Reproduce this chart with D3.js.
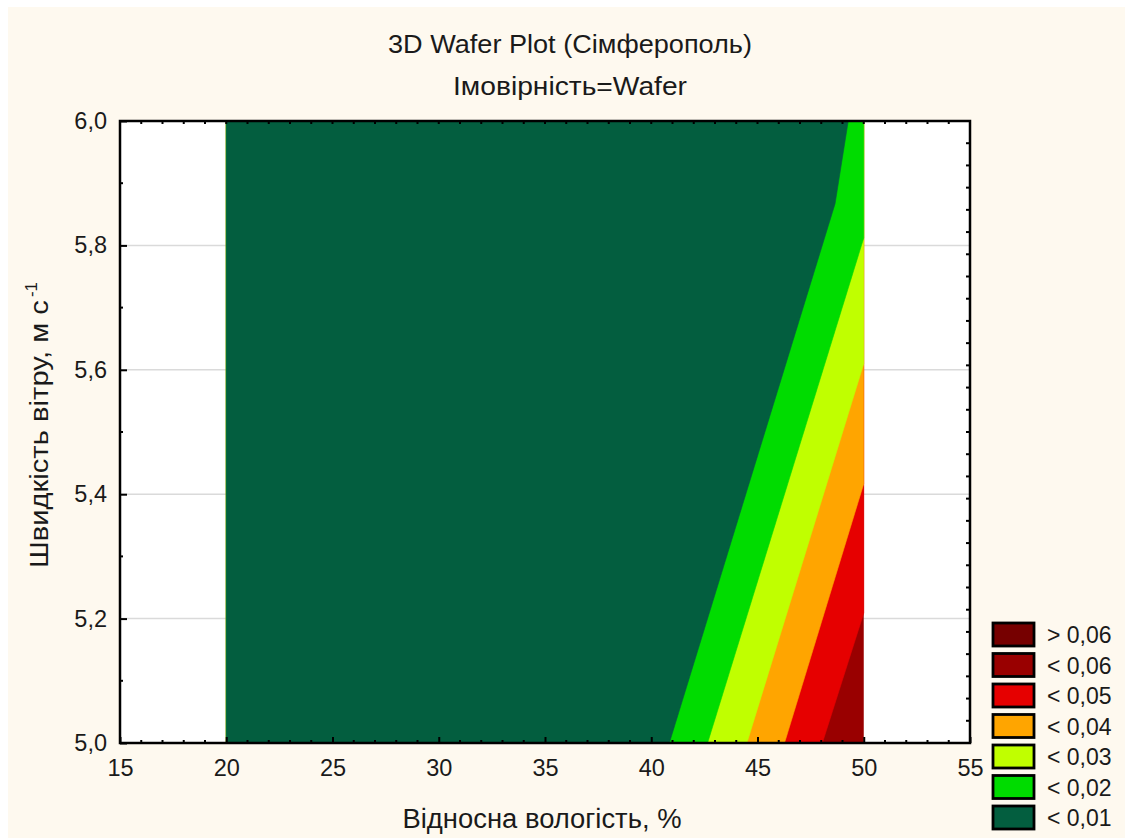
<!DOCTYPE html>
<html>
<head>
<meta charset="utf-8">
<script src="https://cdn.jsdelivr.net/npm/d3@7"></script>
<style>
  html, body { margin: 0; padding: 0; background: #ffffff; }
  svg { display: block; }
  text { font-family: "Liberation Sans", Arial, sans-serif; fill: #1a1a1a; }
</style>
</head>
<body>
<svg id="chart" width="1125" height="838"></svg>
<script>
// Probability surface bands: each iso-line is the boundary where the
// probability equals the level, given as [humidity %, wind speed m/s] points.
const levels = [0.01, 0.02, 0.03, 0.04, 0.05, 0.06];
const iso001 = [[40.85, 5.0], [48.65, 5.867], [49.27, 6.0]];
const iso002 = [[42.65, 5.0], [50.0, 5.812]];
const iso003 = [[44.50, 5.0], [50.0, 5.610]];
const iso004 = [[46.27, 5.0], [50.0, 5.417]];
const iso005 = [[48.05, 5.0], [50.0, 5.209]];
const isoLines = [iso001, iso002, iso003, iso004, iso005];

// Extent of the sampled data (humidity 20–50 %, wind 5–6 m/s)
const humidityRange = [20, 50];
const windRange = [5.0, 6.0];

// Legend entries, top to bottom, and band colours
const legendLabels = ["> 0,06", "< 0,06", "< 0,05", "< 0,04", "< 0,03", "< 0,02", "< 0,01"];
const bandColors = ["#760000", "#990000", "#e60000", "#ffa500", "#c0ff00", "#00dc00", "#035e3f"];

// Axis ticks
const xMajorTicks = [15, 20, 25, 30, 35, 40, 45, 50, 55];
const yMajorTicks = [5.0, 5.2, 5.4, 5.6, 5.8, 6.0];

const svg = d3.select("#chart");
const W = 1125, H = 838;
const plot = { left: 120, right: 970, top: 121, bottom: 743 };

// Page background
svg.append("rect").attr("x", 0).attr("y", 0).attr("width", W).attr("height", H).attr("fill", "#ffffff");
svg.append("rect").attr("x", 8).attr("y", 7).attr("width", W - 8).attr("height", H - 7).attr("fill", "#fef9ef");

const x = d3.scaleLinear().domain([15, 55]).range([plot.left, plot.right]);
const y = d3.scaleLinear().domain([5.0, 6.0]).range([plot.bottom, plot.top]);

// Plot area
svg.append("rect")
  .attr("x", plot.left).attr("y", plot.top)
  .attr("width", plot.right - plot.left).attr("height", plot.bottom - plot.top)
  .attr("fill", "#ffffff");

// Horizontal grid lines
svg.append("g").selectAll("line")
  .data(yMajorTicks.slice(1, -1))
  .join("line")
  .attr("x1", plot.left).attr("x2", plot.right)
  .attr("y1", d => y(d)).attr("y2", d => y(d))
  .attr("stroke", "#dadada").attr("stroke-width", 1.5);

// Filled bands: full data extent in the "< 0,06" colour, then the region
// below each level laid over it from the highest level to the lowest.
const line = d3.line().x(d => x(d[0])).y(d => y(d[1]));
const bands = svg.append("g");
bands.append("path")
  .attr("d", line([[humidityRange[0], windRange[0]], [humidityRange[1], windRange[0]],
                   [humidityRange[1], windRange[1]], [humidityRange[0], windRange[1]]]) + "Z")
  .attr("fill", bandColors[1]);

function belowLevel(iso) {
  const pts = [[humidityRange[0], windRange[0]], ...iso];
  const last = iso[iso.length - 1];
  if (last[1] < windRange[1]) pts.push([humidityRange[1], windRange[1]]);
  pts.push([humidityRange[0], windRange[1]]);
  return pts;
}
for (let i = isoLines.length - 1; i >= 0; i--) {
  bands.append("path")
    .attr("d", line(belowLevel(isoLines[i])) + "Z")
    .attr("fill", bandColors[bandColors.length - 1 - i])
    .attr("stroke", bandColors[bandColors.length - 1 - i])
    .attr("stroke-width", 0.6);
}

// Axes: ticks point into the plot
const tickFont = "23.5px";
const gx = svg.append("g").attr("transform", `translate(0,${plot.bottom})`)
  .call(d3.axisBottom(x).tickValues(xMajorTicks).tickSize(-6).tickPadding(16).tickFormat(d3.format("d")));
const gy = svg.append("g").attr("transform", `translate(${plot.left},0)`)
  .call(d3.axisLeft(y).tickValues(yMajorTicks).tickSize(-7).tickPadding(13)
    .tickFormat(d => d3.format(".1f")(d).replace(".", ",")));
[gx, gy].forEach(g => {
  g.select(".domain").remove();
  g.selectAll(".tick line").attr("stroke", "#000").attr("stroke-width", 2);
  g.selectAll(".tick text").style("font-size", tickFont).attr("fill", "#1a1a1a")
    .style("font-family", "'Liberation Sans', Arial, sans-serif");
});

// Minor ticks on all four sides
const minor = svg.append("g").attr("stroke", "#000").attr("stroke-width", 2);
const xMinor = d3.range(16, 55, 1).filter(v => v % 5 !== 0);
minor.selectAll(".mb").data(xMinor).join("line")
  .attr("x1", d => x(d)).attr("x2", d => x(d))
  .attr("y1", plot.bottom).attr("y2", plot.bottom - 3);
minor.selectAll(".mt").data(d3.range(16, 55, 1)).join("line")
  .attr("x1", d => x(d)).attr("x2", d => x(d))
  .attr("y1", plot.top).attr("y2", plot.top + 3);
minor.selectAll(".ml").data([5.1, 5.3, 5.5, 5.7, 5.9]).join("line")
  .attr("x1", plot.left).attr("x2", plot.left + 3)
  .attr("y1", d => y(d)).attr("y2", d => y(d));
minor.selectAll(".mr").data(d3.range(1, 28).map(k => 5 + k / 28)).join("line")
  .attr("x1", plot.right).attr("x2", plot.right - 4)
  .attr("y1", d => y(d)).attr("y2", d => y(d));

// Plot frame
svg.append("rect")
  .attr("x", plot.left).attr("y", plot.top)
  .attr("width", plot.right - plot.left).attr("height", plot.bottom - plot.top)
  .attr("fill", "none").attr("stroke", "#000").attr("stroke-width", 2.5);

// Titles
svg.append("text").attr("x", 570).attr("y", 53).attr("text-anchor", "middle")
  .style("font-size", "26px").attr("textLength", 364).attr("lengthAdjust", "spacingAndGlyphs")
  .text("3D Wafer Plot (Сімферополь)");
svg.append("text").attr("x", 570).attr("y", 95).attr("text-anchor", "middle")
  .style("font-size", "25px").attr("textLength", 234).attr("lengthAdjust", "spacingAndGlyphs")
  .text("Імовірність=Wafer");

// Axis titles
svg.append("text").attr("x", 542).attr("y", 828).attr("text-anchor", "middle")
  .style("font-size", "27px").attr("textLength", 279).attr("lengthAdjust", "spacingAndGlyphs")
  .text("Відносна вологість, %");

const yTitle = svg.append("text")
  .attr("transform", "translate(48,425) rotate(-90)")
  .attr("text-anchor", "middle")
  .style("font-size", "26px");
yTitle.append("tspan").attr("textLength", 268).attr("lengthAdjust", "spacingAndGlyphs")
  .text("Швидкість вітру,  м с");
yTitle.append("tspan").attr("dx", 3).attr("dy", -11).style("font-size", "17px").text("-1");

// Legend
const legend = svg.append("g").attr("transform", "translate(993,623)");
const item = legend.selectAll("g").data(legendLabels).join("g")
  .attr("transform", (d, i) => `translate(0,${i * 30.5})`);
item.append("rect")
  .attr("x", 0).attr("y", 0).attr("width", 41).attr("height", 23)
  .attr("fill", (d, i) => bandColors[i])
  .attr("stroke", "#000").attr("stroke-width", 2.8);
item.append("text")
  .attr("x", 54).attr("y", 20)
  .style("font-size", "23px")
  .text(d => d);
</script>
</body>
</html>
